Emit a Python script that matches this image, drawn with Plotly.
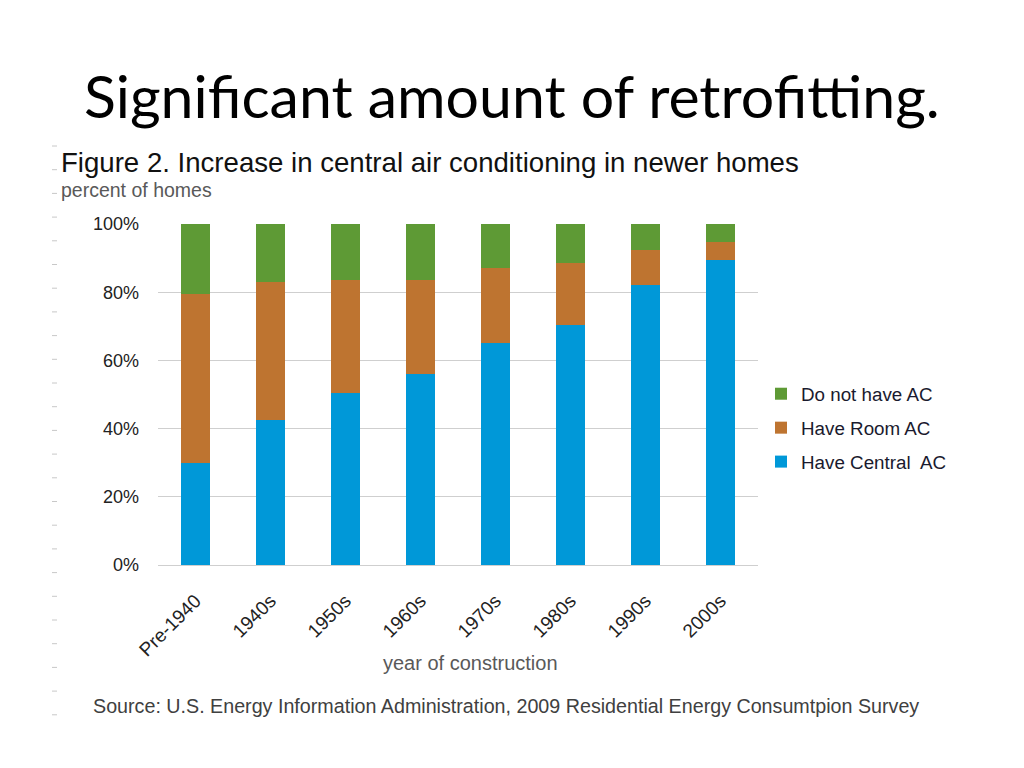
import plotly.graph_objects as go

categories = ["Pre-1940", "1940s", "1950s", "1960s", "1970s", "1980s", "1990s", "2000s"]
central_ac = [30, 42.5, 50.3, 56.0, 65.0, 70.3, 82.0, 89.4]
room_ac = [49.5, 40.4, 33.3, 27.6, 22.2, 18.2, 10.4, 5.4]
no_ac = [20.5, 17.1, 16.4, 16.4, 12.8, 11.5, 7.6, 5.2]

series_names = ["Have Central  AC", "Have Room AC", "Do not have AC"]
colors = ["#0098D8", "#BE7430", "#5E9A35"]
legend_ranks = [3, 2, 1]

W, H = 1024, 768
OFF = 8  # page offset of the figure in the screenshot
L, R, T, B = 158 - OFF, 758 - OFF, 224 - OFF, 565 - OFF


def px(x):
    return (x - OFF - L) / (R - L)


def py(y):
    return (B - (y - OFF)) / (B - T)


fig = go.Figure()
for name, vals, col, rank in zip(series_names, [central_ac, room_ac, no_ac], colors, legend_ranks):
    fig.add_trace(go.Bar(
        x=categories, y=vals, name=name, marker=dict(color=col, line=dict(width=0)),
        width=0.39, legendgroup=name, legendrank=rank,
    ))

annotations = [
    dict(text="Significant amount of retrofitting.", x=px(512), y=py(96), xref="paper", yref="paper",
         showarrow=False, xanchor="center", yanchor="middle",
         font=dict(family="Lato", size=59, color="#000000")),
    dict(text="Figure 2. Increase in central air conditioning in newer homes", x=px(59), y=py(163),
         xref="paper", yref="paper", showarrow=False, xanchor="left", yanchor="middle",
         font=dict(family="Liberation Sans", size=27.6, color="#111111")),
    dict(text="percent of homes", x=px(59), y=py(190), xref="paper", yref="paper",
         showarrow=False, xanchor="left", yanchor="middle",
         font=dict(family="Liberation Sans", size=19.5, color="#595959")),
    dict(text="year of construction", x=px(470), y=py(663), xref="paper", yref="paper",
         showarrow=False, xanchor="center", yanchor="middle",
         font=dict(family="Liberation Sans", size=20, color="#595959")),
    dict(text="Source: U.S. Energy Information Administration, 2009 Residential Energy Consumtpion Survey",
         x=px(91), y=py(706), xref="paper", yref="paper", showarrow=False, xanchor="left", yanchor="middle",
         font=dict(family="Liberation Sans", size=19.7, color="#404040")),
]

shapes = []
yy = 146.0
while yy < 720:
    shapes.append(dict(type="line", xref="paper", yref="paper", x0=px(52), x1=px(57),
                       y0=py(yy), y1=py(yy), line=dict(color="#c8c8c8", width=1)))
    yy += 23.7

fig.update_layout(
    width=W, height=H,
    margin=dict(l=L, r=W - R, t=T, b=H - B),
    paper_bgcolor="white", plot_bgcolor="white",
    barmode="stack",
    font=dict(family="Liberation Sans", size=18, color="#222222"),
    xaxis=dict(tickangle=-45, showgrid=False, showline=False, ticks="", ticklabelstandoff=20,
               tickfont=dict(size=19, color="#222222")),
    yaxis=dict(range=[0, 100], dtick=20, ticksuffix="%", showgrid=True, gridcolor="#cfcfcf",
               gridwidth=1, zeroline=True, zerolinecolor="#cfcfcf", zerolinewidth=1,
               showline=False, ticks="", ticklabelstandoff=18,
               tickfont=dict(size=18, color="#222222")),
    legend=dict(x=px(761), y=py(375), xanchor="left", yanchor="top", traceorder="grouped",
                tracegroupgap=6.5, font=dict(size=18.8, color="#1a1a2e"), bgcolor="rgba(0,0,0,0)"),
    annotations=annotations,
    shapes=shapes,
    showlegend=True,
)

fig.write_html("out.html")
